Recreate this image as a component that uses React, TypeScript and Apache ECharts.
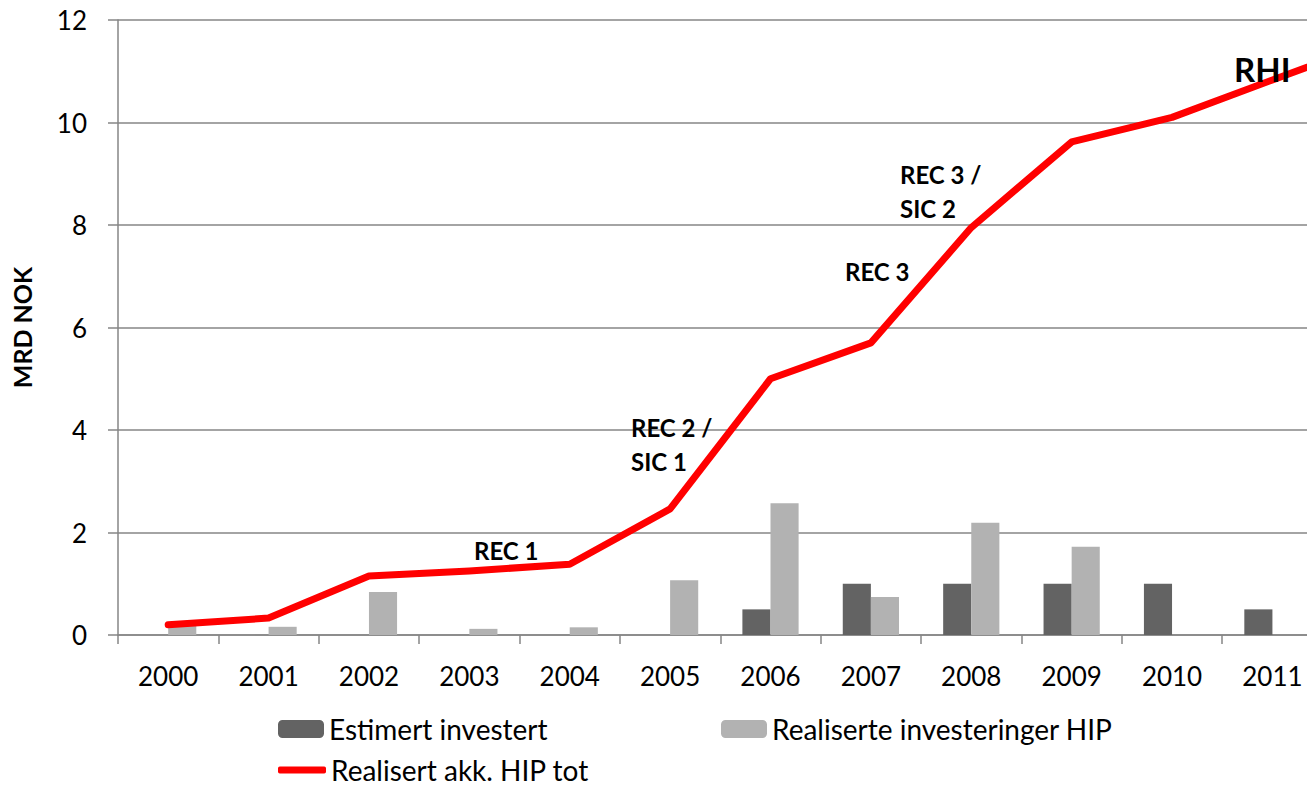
import React, { useEffect, useRef } from "react";
import * as echarts from "echarts";

const categories = ["2000", "2001", "2002", "2003", "2004", "2005", "2006", "2007", "2008", "2009", "2010", "2011", "2012"];
const visibleLabelCount = 12;
const estimertInvestert = [null, null, null, null, null, null, 0.5, 1.0, 1.0, 1.0, 1.0, 0.5, null];
const realiserteInvesteringer = [0.2, 0.16, 0.84, 0.12, 0.15, 1.07, 2.57, 0.74, 2.19, 1.72, null, null, null];
const realisertAkk = [0.2, 0.33, 1.15, 1.25, 1.38, 2.46, 5.0, 5.7, 7.95, 9.62, 10.1, 10.83, 11.55];
const yTicks = { min: 0, max: 12, interval: 2 };

const FONT = "Lato";
const GRAY = "#868686";

export default function App() {
  const ref = useRef<HTMLDivElement>(null);
  useEffect(() => {
    if (!ref.current) return;
    const chart = echarts.init(ref.current, undefined, { renderer: "svg" });
    const annot = (text: string, x: number, y: number, size = 24) => ({
      type: "text",
      left: x,
      top: y,
      z: 50,
      style: {
        text,
        font: `bold ${size}px ${FONT}`,
        fill: "#000",
        lineHeight: 34,
      },
    });
    const legendText = { fontSize: 28, color: "#000", fontFamily: FONT, lineHeight: 26 };
    chart.setOption({
      animation: false,
      backgroundColor: "#fff",
      textStyle: { fontFamily: FONT },
      grid: { left: 118, top: 20, bottom: 151, width: 1305, containLabel: false },
      legend: [
        {
          data: ["Estimert investert"],
          left: 278,
          top: 715,
          padding: 0,
          itemWidth: 46,
          itemHeight: 18,
          selectedMode: false,
          textStyle: legendText,
        },
        {
          data: ["Realiserte investeringer HIP"],
          left: 721,
          top: 715,
          padding: 0,
          itemWidth: 46,
          itemHeight: 18,
          selectedMode: false,
          textStyle: legendText,
        },
        {
          data: [{ name: "Realisert akk. HIP tot", icon: "roundRect" }],
          left: 278,
          top: 756,
          padding: 0,
          itemWidth: 48,
          itemHeight: 7,
          selectedMode: false,
          textStyle: legendText,
        },
      ],
      xAxis: {
        type: "category",
        data: categories,
        boundaryGap: true,
        axisLine: { lineStyle: { color: GRAY, width: 1.5 } },
        axisTick: { show: true, length: 9, inside: false, lineStyle: { color: GRAY, width: 1.5 } },
        axisLabel: {
          color: "#000",
          fontSize: 26,
          fontFamily: FONT,
          margin: 28,
          interval: 0,
          formatter: (v: string, i: number) => (i < visibleLabelCount ? v : ""),
        },
        splitLine: { show: false },
      },
      yAxis: {
        type: "value",
        min: yTicks.min,
        max: yTicks.max,
        interval: yTicks.interval,
        name: "MRD NOK",
        nameLocation: "middle",
        nameRotate: 90,
        nameGap: 84,
        nameTextStyle: { fontSize: 25, fontWeight: "bold", color: "#000", fontFamily: FONT },
        axisLine: { show: true, lineStyle: { color: GRAY, width: 1.5 } },
        axisTick: { show: true, length: 10, lineStyle: { color: GRAY, width: 1.5 } },
        axisLabel: { color: "#000", fontSize: 26, fontFamily: FONT, margin: 31 },
        splitLine: { show: true, lineStyle: { color: GRAY, width: 1.5 } },
      },
      series: [
        {
          name: "Estimert investert",
          type: "bar",
          data: estimertInvestert,
          barWidth: "28%",
          barGap: "0%",
          itemStyle: { color: "#636363" },
          z: 2,
        },
        {
          name: "Realiserte investeringer HIP",
          type: "bar",
          data: realiserteInvesteringer,
          barWidth: "28%",
          barGap: "0%",
          itemStyle: { color: "#b2b2b2" },
          z: 2,
        },
        {
          name: "Realisert akk. HIP tot",
          type: "line",
          data: realisertAkk,
          symbol: "none",
          lineStyle: { color: "#ff0000", width: 7, cap: "round", join: "round" },
          itemStyle: { color: "#ff0000" },
          z: 5,
        },
      ],
      graphic: [
        annot("REC 1", 474, 533),
        annot("REC 2 /\nSIC 1", 631, 410),
        annot("REC 3", 845, 254),
        annot("REC 3 /\nSIC 2", 900, 157),
        annot("RHI", 1234, 52, 33),
      ],
    });
    return () => chart.dispose();
  }, []);
  return (
    <div style={{ position: "fixed", left: 0, top: 0, width: 1307, height: 786, overflow: "hidden", background: "#fff" }}>
      <div ref={ref} style={{ position: "absolute", left: 0, top: 0, width: 1430, height: 786 }} />
    </div>
  );
}
